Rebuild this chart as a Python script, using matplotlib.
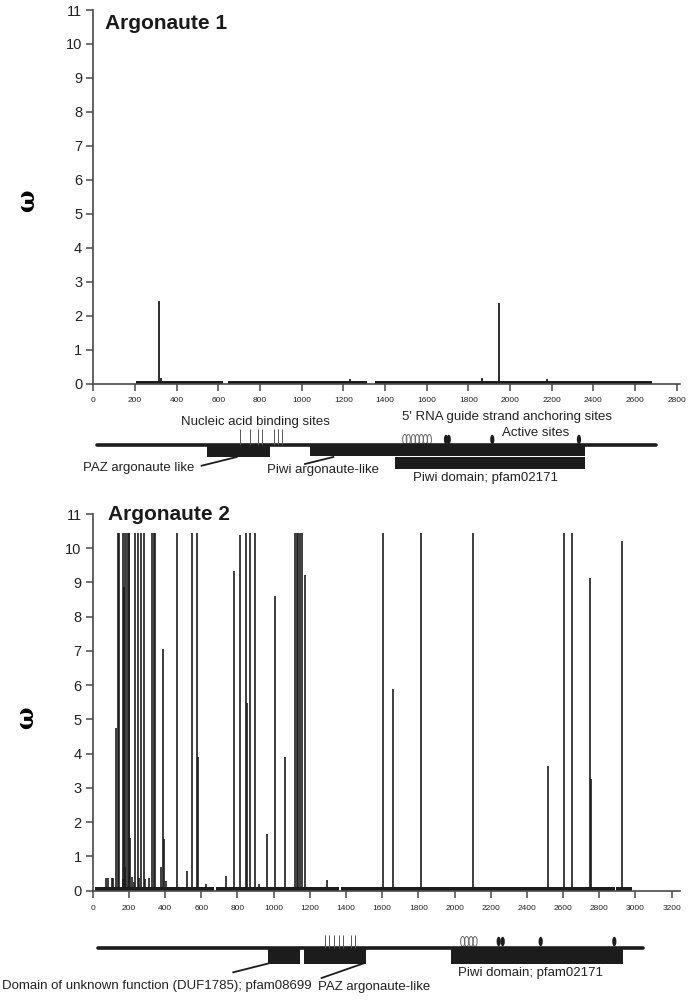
import matplotlib
matplotlib.use("Agg")
import matplotlib.pyplot as plt
from matplotlib.patches import Ellipse, Rectangle

plt.rcParams['font.family'] = ['Liberation Sans', 'DejaVu Sans']

# ---- Argonaute 1: omega along the sequence ----
ago1_base_start = [205, 645, 1352]
ago1_base_end = [621, 1312, 2680]
ago1_base_val = [0.07, 0.07, 0.07]
ago1_pos = [317, 324, 1232, 1864, 1949, 2176]
ago1_val = [2.42, 0.15, 0.12, 0.17, 2.38, 0.12]

# ---- Argonaute 2 ----
ago2_base_start = [10, 680, 1372, 2895]
ago2_base_end = [672, 1362, 2885, 2980]
ago2_base_val = [0.11, 0.11, 0.11, 0.11]
ago2_pos = [72, 83, 105, 114, 129, 138, 147, 166, 169, 175, 177, 180,
            191, 199, 203, 208, 218, 230, 234, 248, 258, 265, 283, 291, 309,
            330, 339, 346, 377, 389, 396, 405, 467, 521, 550, 576, 580, 624,
            737, 783, 812, 847, 854, 868, 899, 921, 961, 1006, 1065,
            1118, 1127, 1136, 1146, 1155, 1171, 1297, 1602, 1657, 1814, 2100,
            2514, 2606, 2647, 2747, 2754, 2923]
ago2_val = [0.36, 0.38, 0.38, 0.38, 4.75, 10.45, 10.45, 0.35, 10.45,
            8.87, 0.7, 10.45, 10.45, 10.45, 10.45, 1.55, 0.4, 0.25, 10.45,
            10.45, 0.38, 10.45, 10.45, 0.33, 0.38, 10.45, 10.45, 10.45, 0.7,
            7.07, 1.51, 0.28, 10.45, 0.58, 10.45, 10.45, 3.89, 0.2, 0.43, 9.35,
            10.38, 10.45, 5.48, 10.45, 10.45, 0.2, 1.65, 8.6, 3.9,
            10.45, 10.45, 10.45, 10.45, 10.45, 9.21, 0.3, 10.45, 5.9, 10.45,
            10.45, 3.65, 10.45, 10.45, 9.12, 3.26, 10.2]

# ---- domain diagrams (positions on the same scale as the plots) ----
ago1_backbone = (16, 2700)
ago1_boxes = [(546, 850, 445, 457), (1039, 2362, 444, 456.3), (1447, 2362, 456.8, 469)]
ago1_sites = [706, 752, 792, 811, 866, 885, 906]
ago1_open = [1495, 1512, 1536, 1555, 1574, 1594, 1613]
ago1_filled = [1693, 1706, 1915, 2331]

ago2_backbone = (31, 3040)
ago2_boxes = [(970, 1146, 948, 963.5), (1168, 1511, 948, 963.5), (1980, 2929, 948, 963.5)]
ago2_sites = [1284, 1308, 1335, 1361, 1382, 1428, 1450]
ago2_open = [2045, 2067, 2091, 2113]
ago2_filled = [2244, 2266, 2476, 2883]

dark = '#1c1c1c'
axc = '#4a4a4a'

fig = plt.figure(figsize=(6.91, 10.01), dpi=100)
W, H = 691.0, 1001.0


def style(ax, xmax, xstep):
    ax.set_ylim(0, 11)
    ax.set_xlim(0, xmax)
    ax.set_yticks(range(0, 12))
    ax.set_xticks(range(0, int(xmax) + 1, xstep))
    for s in ['top', 'right']:
        ax.spines[s].set_visible(False)
    for s in ['left', 'bottom']:
        ax.spines[s].set_color(axc)
        ax.spines[s].set_linewidth(1.2)
    ax.tick_params(axis='y', direction='out', length=5, width=1.1, color=axc,
                   labelsize=10.5, labelcolor='#222222', pad=3)
    ax.tick_params(axis='x', direction='out', length=5, width=1.1, color=axc,
                   labelsize=6, labelcolor='#222222', pad=5)
    ax.set_ylabel('ω', family=['DejaVu Serif'], fontsize=17, fontweight='bold')


# top plot
ax1 = fig.add_axes([93.3 / W, 1 - 383.5 / H, (680 - 93.3) / W, (383.5 - 10) / H])
for s, e, v in zip(ago1_base_start, ago1_base_end, ago1_base_val):
    ax1.bar(s, v, width=e - s, align='edge', color=dark, linewidth=0)
ax1.vlines(ago1_pos, 0, ago1_val, color=dark, lw=1.3)
style(ax1, 2816, 200)
ax1.yaxis.set_label_coords(-0.093, 0.49)
ax1.text(0.02, 0.99, 'Argonaute 1', transform=ax1.transAxes, fontsize=15,
         fontweight='bold', va='top', ha='left', color='#1a1a1a')

# bottom plot
ax2 = fig.add_axes([92.7 / W, 1 - 890.7 / H, (680 - 92.7) / W, (890.7 - 514) / H])
for s, e, v in zip(ago2_base_start, ago2_base_end, ago2_base_val):
    ax2.bar(s, v, width=e - s, align='edge', color=dark, linewidth=0)
ax2.vlines(ago2_pos, 0, ago2_val, color=dark, lw=1.2)
style(ax2, 3246, 200)
ax2.yaxis.set_label_coords(-0.093, 0.46)
ax2.text(0.026, 1.0, 'Argonaute 2', transform=ax2.transAxes, fontsize=15,
         fontweight='bold', va='center', ha='left', color='#1a1a1a')


def diagram(ax, backbone, y0, boxes, sites, site_top, opens, filled, ell_y, px):
    ax.axis('off')
    ax.hlines(y0, backbone[0], backbone[1], color=dark, lw=2.6, capstyle='round')
    for a, b, t, btm in boxes:
        ax.add_patch(Rectangle((a, t), b - a, btm - t, color=dark, lw=0))
    ax.vlines(sites, site_top, y0, color='#555555', lw=0.7)
    for x in opens:
        ax.add_patch(Ellipse((x, ell_y), 4.2 / px, 10, fill=False, ec='#666666', lw=0.7))
    for x in filled:
        ax.add_patch(Ellipse((x, ell_y), 4.2 / px, 9.5, color=dark, lw=0))


# top diagram
px1 = (680 - 93.3) / 2816
d1 = fig.add_axes([93.3 / W, 1 - 495 / H, (680 - 93.3) / W, 90 / H])
d1.set_xlim(0, 2816)
d1.set_ylim(495, 405)
diagram(d1, ago1_backbone, 445, ago1_boxes, ago1_sites, 429, ago1_open, ago1_filled, 439.5, px1)
fs = 9.5
d1.text(780, 422, 'Nucleic acid binding sites', ha='center', va='center', fontsize=fs, color='#222222')
d1.text(1986, 416.7, "5' RNA guide strand anchoring sites", ha='center', va='center', fontsize=fs, color='#222222')
d1.text(2125, 432.7, 'Active sites', ha='center', va='center', fontsize=fs, color='#222222')
d1.text(-51, 468, 'PAZ argonaute like', ha='left', va='center', fontsize=fs, color='#222222', clip_on=False)
d1.text(835, 470, 'Piwi argonaute-like', ha='left', va='center', fontsize=fs, color='#222222')
d1.text(1884, 478.3, 'Piwi domain; pfam02171', ha='center', va='center', fontsize=fs, color='#222222')
d1.plot([520, 688], [465.7, 457], color=dark, lw=1.3)
d1.plot([1016, 1152], [464, 457], color=dark, lw=1.3)

# bottom diagram
px2 = (680 - 92.7) / 3246
d2 = fig.add_axes([92.7 / W, 0, (680 - 92.7) / W, 76 / H])
d2.set_xlim(0, 3246)
d2.set_ylim(1001, 925)
diagram(d2, ago2_backbone, 948.3, ago2_boxes, ago2_sites, 935, ago2_open, ago2_filled, 941.5, px2)
d2.text(-501, 986, 'Domain of unknown function (DUF1785); pfam08699', ha='left', va='center',
        fontsize=fs, color='#222222', clip_on=False)
d2.text(1247, 986.7, 'PAZ argonaute-like', ha='left', va='center', fontsize=fs, color='#222222')
d2.text(2422, 973.3, 'Piwi domain; pfam02171', ha='center', va='center', fontsize=fs, color='#222222')
d2.plot([777, 970], [972.3, 963.5], color=dark, lw=1.3)
d2.plot([1265, 1495], [978, 963.5], color=dark, lw=1.3)

fig.savefig('out.png', dpi=100)
